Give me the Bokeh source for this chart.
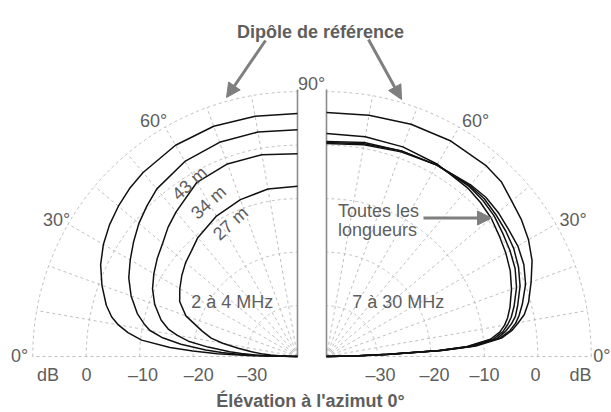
import numpy as np
from bokeh.plotting import figure
from bokeh.models import Range1d, Arrow, NormalHead
from bokeh.core.properties import value
from bokeh.embed import file_html
from bokeh.resources import INLINE

# ---------------- data (elevation patterns, dB) ----------------
elev_deg = [0, 1, 2, 3, 4, 6, 8, 10, 12, 15, 20, 25, 30, 35, 40, 45, 50, 60, 70, 80, 90]

# 2 à 4 MHz (left half)
lo_dipole = [-40, -31.1, -24.5, -19.9, -15.6, -10.2, -7.5, -5.5, -4.0, -2.5, -0.6, 1.1, 2.4, 3.4, 4.2, 4.9, 5.4, 6.1, 6.3, 6.1, 5.9]
lo_43m = [-40, -33.7, -28.8, -25.3, -22.3, -17.6, -13.9, -11.5, -10.2, -8.5, -6.4, -4.7, -3.4, -2.1, -0.8, 0.3, 1.4, 2.6, 3.1, 3.1, 2.9]
lo_34m = [-40, -35.2, -31.6, -29.0, -26.8, -22.7, -18.9, -16.7, -14.8, -13.1, -11.1, -9.6, -8.5, -7.5, -6.6, -5.3, -4.2, -1.9, -1.2, -1.2, -1.6]
lo_27m = [-40, -37.6, -36.0, -34.5, -33.1, -30.7, -28.3, -25.3, -23.0, -21.0, -17.3, -15.2, -14.1, -13.1, -12.2, -11.5, -10.5, -9.2, -8.3, -7.7, -7.7]

# 7 à 30 MHz (right half)
hi_dipole = [-40, -34.3, -27.5, -17.5, -11.5, -6.6, -4.5, -3.1, -1.7, -0.4, 1.2, 2.9, 4.1, 5.0, 5.7, 6.7, 7.0, 7.0, 6.7, 6.3, 6.1]
hi_len_a = [-40, -34.5, -28.2, -18.8, -13.3, -8.7, -6.8, -5.7, -4.9, -4.0, -2.7, -1.6, -0.8, -0.1, 0.7, 1.2, 1.6, 2.0, 2.2, 2.2, 2.2]
hi_len_b = [-40, -34.5, -28.1, -18.4, -12.9, -8.1, -6.2, -5.1, -4.2, -3.2, -1.7, -0.6, 0.1, 0.7, 1.4, 1.8, 2.0, 1.8, 1.4, 1.1, 0.7]
hi_len_c = [-40, -34.3, -27.9, -18.2, -12.5, -7.5, -5.7, -4.4, -3.4, -2.5, -1.0, 0.1, 0.9, 1.4, 1.8, 2.2, 2.2, 1.8, 1.4, 0.9, 0.5]
hi_len_d = [-40, -34.3, -27.7, -18.0, -12.2, -7.0, -4.9, -3.6, -2.7, -1.6, 0.1, 1.2, 1.8, 2.0, 2.4, 2.6, 2.4, 1.8, 1.2, 0.7, 0.3]

ring_db = [-30, -20, -10, 0, 10]
spoke_deg = [0, 10, 20, 30, 40, 50, 60, 70, 80]

# ---------------- layout ----------------
PX = 5.35          # pixels per dB
DB0 = -39.5        # dB value at the centre
GAP = 14.5 / PX    # half gap between the two halves
W, H = 611, 412

def ip(ix, iy):
    return (ix - 311.5) / PX, (356 - iy) / PX

def polar(db, deg, side):
    db = np.asarray(db, dtype=float)
    th = np.radians(np.asarray(deg, dtype=float))
    r = np.maximum(db - DB0, 0)
    cx = side * GAP
    return cx + side * r * np.cos(th), r * np.sin(th)

x0, _ = ip(0, 0)
x1, _ = ip(W, 0)
_, y1 = ip(0, 0)
_, y0 = ip(0, H)

p = figure(width=W, height=H, x_range=Range1d(x0, x1), y_range=Range1d(y0, y1),
           output_backend="svg", toolbar_location=None,
           x_axis_type=None, y_axis_type=None, min_border=0)
p.outline_line_color = None
p.grid.visible = False
p.background_fill_color = "white"

GRID = "#b8b8b8"
AX = "#8c8c8c"
TXT = "#5e5e5e"
FONT = value("Liberation Sans")

# grid rings and spokes
tt = np.linspace(0, 90, 181)
for side in (-1, 1):
    gx, gy = [], []
    for rd in ring_db:
        x, y = polar(np.full_like(tt, rd), tt, side)
        gx.append(x); gy.append(y)
    for a in spoke_deg:
        x, y = polar([DB0, ring_db[-1]], [a, a], side)
        gx.append(x); gy.append(y)
    p.multi_line(gx, gy, line_color=GRID, line_width=0.9, line_dash="3 3")
    # vertical 90° axis
    x, y = polar([DB0, ring_db[-1] + 0.4], [90, 90], side)
    p.line(x, y, line_color=AX, line_width=1.6)

# curves
for d in (lo_dipole, lo_43m, lo_34m, lo_27m):
    x, y = polar(d, elev_deg, -1)
    p.line(x, y, line_color="#111111", line_width=1.5)
for d in (hi_dipole, hi_len_a, hi_len_b, hi_len_c, hi_len_d):
    x, y = polar(d, elev_deg, 1)
    p.line(x, y, line_color="#111111", line_width=1.5)

def txt(s, ix, iy, align="center", bold=False, size="18px"):
    x, y = ip(ix, iy)
    p.text([x], [y], text=[s], text_align=align, text_baseline="alphabetic",
           text_font=FONT, text_font_size=size, text_color=TXT,
           text_font_style="bold" if bold else "normal")

# titles
txt("Dipôle de référence", 320, 31.5, bold=True)
txt("Élévation à l'azimut 0°", 310, 400, bold=True)

# angle labels
txt("90°", 311, 83)
txt("60°", 153, 120.5)
txt("60°", 475, 120.5)
txt("30°", 56, 219.5)
txt("30°", 572.5, 219.5)
txt("0°", 19, 355)
txt("0°", 610, 355, align="right")

# dB labels
txt("dB", 47.5, 374)
txt("0", 86, 374)
txt("–10", 142.5, 374)
txt("–20", 198.3, 374)
txt("–30", 251.7, 374)
txt("–30", 380, 374)
txt("–20", 434, 374)
txt("–10", 484, 374)
txt("0", 535, 374)
txt("dB", 580, 374)

# curve labels (rotated)
def rtxt(s, ix, iy, ang):
    x, y = ip(ix, iy)
    p.text([x], [y], text=[s], text_align="center", text_baseline="middle",
           text_font=FONT, text_font_size="18px", text_color=TXT, angle=np.radians(ang))

rtxt("43 m", 189, 183, 42)
rtxt("34 m", 208, 202, 42)
rtxt("27 m", 230, 223, 42)

txt("2 à 4 MHz", 231.7, 301.7)
txt("7 à 30 MHz", 397.8, 301.7)
txt("Toutes les", 337.5, 210, align="left")
txt("longueurs", 337.5, 229.5, align="left")

# arrows
ARR = "#7f7f7f"
for (sx, sy, ex, ey) in [(265, 40, 226, 97), (368, 39, 401, 99), (423, 217.5, 491, 217.5)]:
    xs, ys = ip(sx, sy)
    xe, ye = ip(ex, ey)
    p.add_layout(Arrow(end=NormalHead(size=14, fill_color=ARR, line_color=ARR, line_width=1),
                       x_start=xs, y_start=ys, x_end=xe, y_end=ye,
                       line_color=ARR, line_width=3))

open("out.html", "w").write(file_html(p, INLINE))
